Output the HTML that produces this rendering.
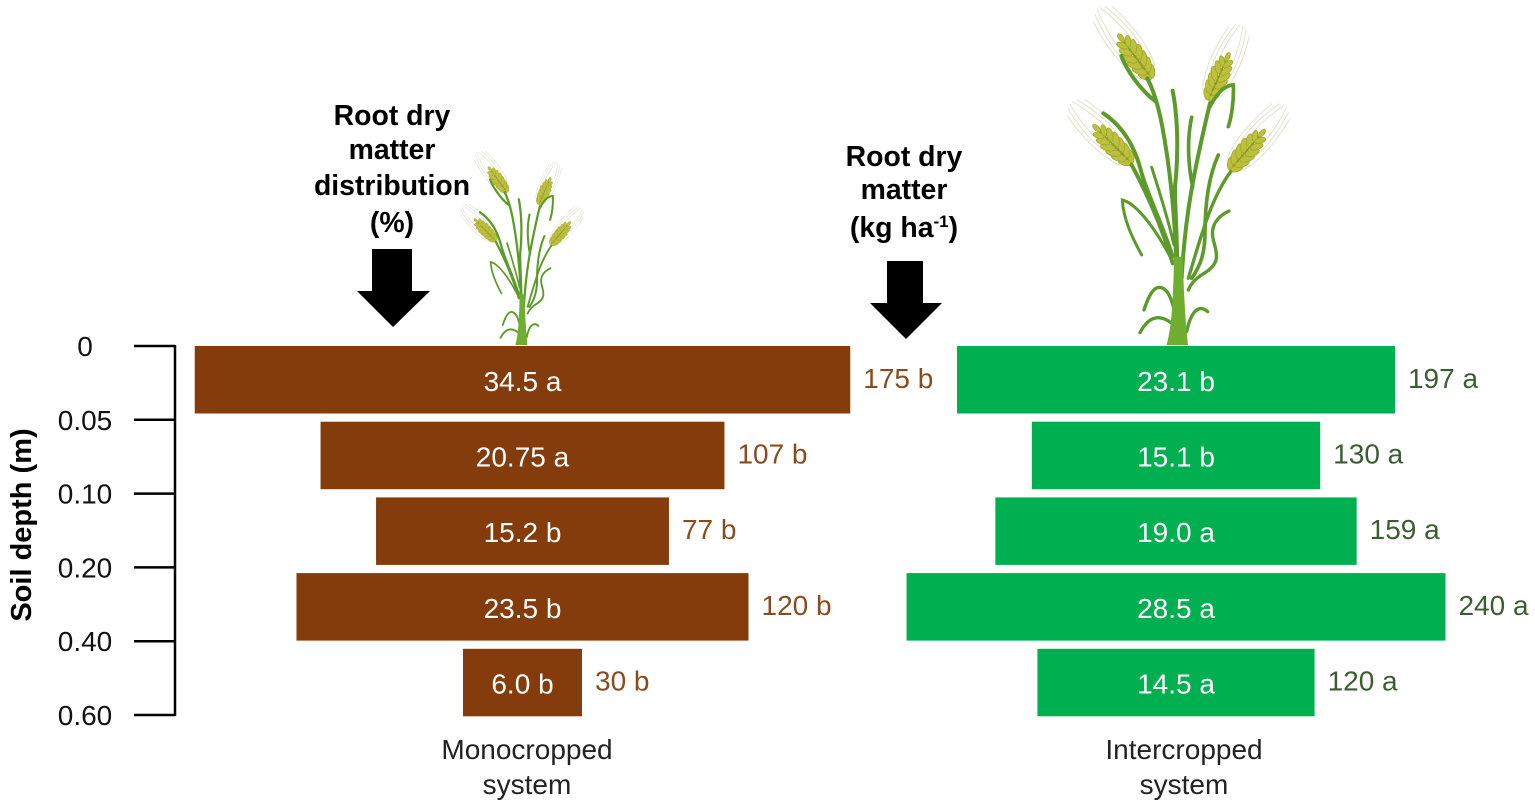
<!DOCTYPE html>
<html lang="en">
<head>
<meta charset="utf-8">
<title>Root dry matter by soil depth</title>
<style>
html,body{margin:0;padding:0;background:#fff;width:1535px;height:810px;overflow:hidden}
svg{display:block}
text{font-family:"Liberation Sans",Arial,sans-serif}
</style>
</head>
<body>
<svg id="chart" xmlns="http://www.w3.org/2000/svg" width="1535" height="810" viewBox="0 0 1535 810">
  <defs>
    <g id="ear">
      <g fill="none" stroke="#e2e2cc" stroke-width="3">
        <path d="M20,-28 C70,-48 150,-50 230,-35"/>
        <path d="M60,-26 C110,-40 180,-35 245,-18"/>
        <path d="M100,-20 C150,-26 200,-18 250,-5"/>
        <path d="M20,28 C70,48 150,50 230,35"/>
        <path d="M60,26 C110,40 180,35 245,18"/>
        <path d="M100,20 C150,26 200,18 250,5"/>
      </g>
      <path d="M0,0 L150,0" stroke="#8d9a22" stroke-width="6"/>
      <g fill="#bcc03c" stroke="#9aa326" stroke-width="2">
        <ellipse cx="16" cy="-12" rx="20" ry="9" transform="rotate(-32 16 -12)"/>
        <ellipse cx="16" cy="12" rx="20" ry="9" transform="rotate(32 16 12)"/>
        <ellipse cx="38" cy="-15" rx="22" ry="10" transform="rotate(-32 38 -15)"/>
        <ellipse cx="38" cy="15" rx="22" ry="10" transform="rotate(32 38 15)"/>
        <ellipse cx="60" cy="-16" rx="22" ry="10" transform="rotate(-32 60 -16)"/>
        <ellipse cx="60" cy="16" rx="22" ry="10" transform="rotate(32 60 16)"/>
        <ellipse cx="82" cy="-16" rx="22" ry="10" transform="rotate(-32 82 -16)"/>
        <ellipse cx="82" cy="16" rx="22" ry="10" transform="rotate(32 82 16)"/>
        <ellipse cx="104" cy="-14" rx="20" ry="9" transform="rotate(-32 104 -14)"/>
        <ellipse cx="104" cy="14" rx="20" ry="9" transform="rotate(32 104 14)"/>
        <ellipse cx="125" cy="-10" rx="17" ry="8" transform="rotate(-32 125 -10)"/>
        <ellipse cx="125" cy="10" rx="17" ry="8" transform="rotate(32 125 10)"/>
        <ellipse cx="145" cy="0" rx="14" ry="7"/>
      </g>
    </g>
    <g id="wheat-plant">
      <use href="#ear" transform="translate(275,235) rotate(-127.2) scale(1.05)"/>
      <use href="#ear" transform="translate(215,490) rotate(-135) scale(1.03)"/>
      <use href="#ear" transform="translate(445,300) rotate(-66) scale(.98)"/>
      <use href="#ear" transform="translate(510,510) rotate(-49) scale(1.01)"/>
      <g fill="none" stroke="#5c9a2b" stroke-width="14" stroke-linecap="round">
        <path d="M350,810 C345,650 330,500 305,370 C295,320 280,270 262,235" stroke-width="12"/>
        <path d="M184,168 C200,210 240,270 288,305" stroke-width="12"/>
        <path d="M338,272 C355,360 355,470 345,560 C345,620 350,680 352,800" stroke-width="12"/>
        <path d="M338,790 C300,660 250,560 215,495" stroke-width="12"/>
        <path d="M130,340 C190,380 225,440 245,520 C265,590 310,680 338,770" stroke-width="12"/>
        <path d="M275,502 C300,580 325,660 342,735" stroke-width="9"/>
        <path d="M245,765 C220,720 190,660 187,600 C230,610 290,690 338,785" stroke-width="9"/>
        <path d="M365,835 C375,650 400,520 450,310" stroke-width="12"/>
        <path d="M450,320 C470,280 495,255 520,255 C522,300 515,350 505,380" stroke-width="11"/>
        <path d="M395,352 C380,420 385,500 398,560" stroke-width="11"/>
        <path d="M385,835 C420,720 450,600 512,515" stroke-width="10"/>
        <path d="M475,465 C450,520 435,600 435,700 C435,760 420,800 395,835" stroke-width="11"/>
        <path d="M507,633 C470,650 450,680 460,720 C475,770 475,790 440,815 C415,830 395,845 385,870" stroke-width="10"/>
        <path d="M252,930 C265,890 280,860 300,862 C320,865 330,885 340,920" stroke-width="10"/>
        <path d="M240,998 C260,960 290,935 335,970" stroke-width="10"/>
        <path d="M443,935 C420,915 395,925 380,995" stroke-width="10"/>
      </g>
      <path d="M320,1035 C335,980 340,900 342,770 L368,770 C372,900 378,980 384,1035 Z" fill="#6fae2e"/>
    </g>
  </defs>

  <use href="#wheat-plant" transform="translate(455.7,147.3) scale(.1868,.191)"/>
  <use href="#wheat-plant" transform="translate(1060,0) scale(.3333)"/>

  <g id="titles" font-weight="700" font-size="28.4" text-anchor="middle" fill="#000">
    <text x="392" y="125">Root dry</text>
    <text x="392" y="159">matter</text>
    <text x="392" y="195">distribution</text>
    <text x="392" y="232">(%)</text>
    <text x="904" y="166">Root dry</text>
    <text x="904" y="199">matter</text>
    <text x="904" y="237">(kg ha<tspan font-size="17" dy="-10">-1</tspan><tspan dy="10">)</tspan></text>
  </g>

  <path d="M372,249 H412 V291 H430 L393,327 L357,291 H372 Z" fill="#000"/>
  <path d="M887,261 H923 V303 H942 L906,339 L870,303 H887 Z" fill="#000"/>

  <text transform="translate(31,525) rotate(-90)" font-size="29" font-weight="700" text-anchor="middle" fill="#000">Soil depth (m)</text>

  <g id="axis"></g>
  <g id="bars"></g>

  <g font-size="28" text-anchor="middle" fill="#222">
    <text x="527" y="759">Monocropped</text>
    <text x="527" y="794">system</text>
    <text x="1184" y="759">Intercropped</text>
    <text x="1184" y="794">system</text>
  </g>
</svg>
<script>
// Chart data
var depthTicks = ['0', '0.05', '0.10', '0.20', '0.40', '0.60'];
var layers = ['0-0.05', '0.05-0.10', '0.10-0.20', '0.20-0.40', '0.40-0.60'];
var monoPercent = [34.5, 20.75, 15.2, 23.5, 6.0];
var monoPercentLetters = ['a', 'a', 'b', 'b', 'b'];
var monoMass = [175, 107, 77, 120, 30];
var monoMassLetters = ['b', 'b', 'b', 'b', 'b'];
var interPercent = [23.1, 15.1, 19.0, 28.5, 14.5];
var interPercentLetters = ['b', 'b', 'a', 'a', 'a'];
var interMass = [197, 130, 159, 240, 120];
var interMassLetters = ['a', 'a', 'a', 'a', 'a'];
var percentDecimals = { mono: [1, 2, 1, 1, 1], inter: [1, 1, 1, 1, 1] };

var NS = 'http://www.w3.org/2000/svg';
var axisGroup = document.getElementById('axis');
var barsGroup = document.getElementById('bars');

// Axis functions
function tickY(i) { return 346 + i * (715 - 346) / (depthTicks.length - 1); }
function bandTop(i) { return 346 + i * 75.7; }
var BAND_H = 67.5;
function monoWidth(mass) { return 8 + mass * 3.7; }
function interWidth(pct) { return 6 + pct * 18.7; }

function makeEl(tag, attrs, parent) {
  var e = document.createElementNS(NS, tag);
  for (var k in attrs) e.setAttribute(k, attrs[k]);
  parent.appendChild(e);
  return e;
}
function makeText(str, x, y, anchor, fill, parent) {
  var t = makeEl('text', { x: x, y: y, 'font-size': 28, 'text-anchor': anchor, fill: fill }, parent);
  t.textContent = str;
  return t;
}

// Axis
var axisLine = makeEl('line', { x1: 175, x2: 175, y1: tickY(0) - 1, y2: tickY(depthTicks.length - 1) + 1, stroke: '#000', 'stroke-width': 2.5 }, axisGroup);


depthTicks.forEach(function (label, i) {
  var y = tickY(i);
  var tick = makeEl('line', { x1: 134, x2: 175, y1: y, y2: y, stroke: '#000', 'stroke-width': 2.5 }, axisGroup);
  
  
  var lab = makeText(label, 85, y + 10, 'middle', '#111', axisGroup);
  
  
});

// Bars
function drawPanel(cx, widths, pcts, pctLetters, masses, massLetters, decimals, barColor, labelColor, prefix) {
  layers.forEach(function (layer, i) {
    var w = widths[i];
    var top = bandTop(i);
    var rect = makeEl('rect', { x: cx - w / 2, y: top, width: w, height: BAND_H, fill: barColor }, barsGroup);
    
    
    var mid = top + BAND_H / 2;
    var inside = makeText(pcts[i].toFixed(decimals[i]) + ' ' + pctLetters[i], cx, mid + 11, 'middle', '#fff', barsGroup);
    
    
    var outside = makeText(masses[i] + ' ' + massLetters[i], cx + w / 2 + 13, mid + 8, 'start', labelColor, barsGroup);
    
    
  });
}
drawPanel(522.5, monoMass.map(monoWidth), monoPercent, monoPercentLetters, monoMass, monoMassLetters, percentDecimals.mono, '#843c0c', '#8a4b1f', 'monocropped');
drawPanel(1176, interPercent.map(interWidth), interPercent, interPercentLetters, interMass, interMassLetters, percentDecimals.inter, '#00b050', '#3c5c32', 'intercropped');
</script>
</body>
</html>
